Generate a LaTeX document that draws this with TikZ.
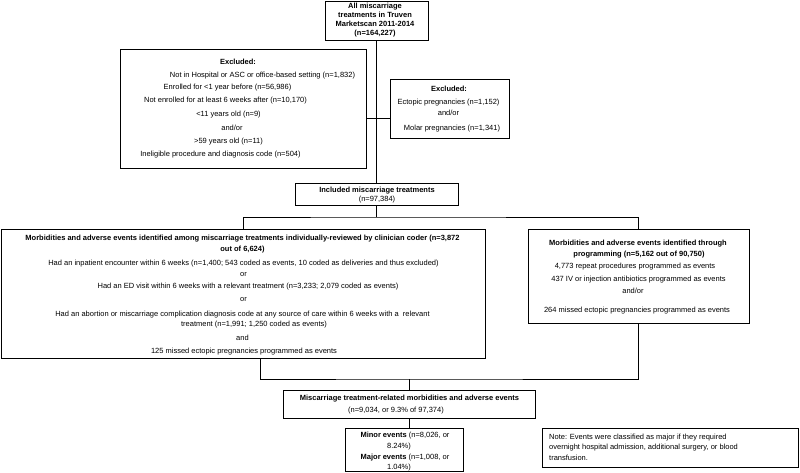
\documentclass[tikz,border=0pt]{standalone}
\usepackage{fontspec}
\setmainfont{Liberation Sans}
\usetikzlibrary{shadows,calc}
\begin{document}
\begin{tikzpicture}[x=1pt,y=-1pt,
  box/.style={draw=black, line width=0.8pt, fill=white, inner sep=0pt,
    drop shadow={shadow xshift=0.9pt, shadow yshift=-0.9pt, opacity=1, fill=black}},
  txt/.style={inner sep=0pt, anchor=base, font=\fontsize{7.5}{9}\selectfont},
  txtb/.style={inner sep=0pt, anchor=base, font=\fontsize{7.5}{9}\selectfont\bfseries},
  txtw/.style={inner sep=0pt, anchor=base west, font=\fontsize{7.5}{9}\selectfont},
  link/.style={draw=black, line width=0.8pt}]
\useasboundingbox (0,0) rectangle (800,472);

% ---------- boxes ----------
\node[box, minimum width=103pt, minimum height=39pt] (top) at (376.5,20.5) {};
\node[box, minimum width=246pt, minimum height=119pt] (exL) at (243,108.5) {};
\node[box, minimum width=119pt, minimum height=59pt] (exR) at (449.5,108.5) {};
\node[box, minimum width=163pt, minimum height=22pt] (incl) at (376.5,194) {};
\node[box, minimum width=484pt, minimum height=129pt] (bigL) at (243,293.5) {};
\node[box, minimum width=221pt, minimum height=94pt] (bigR) at (638.5,276) {};
\node[box, minimum width=252pt, minimum height=28pt] (misc) at (409.5,404) {};
\node[box, minimum width=118pt, minimum height=43pt] (minor) at (404,449.5) {};
\node[box, minimum width=256pt, minimum height=39pt] (note) at (670,447.5) {};

% ---------- connectors ----------
\coordinate (j1) at (376.5,118);
\coordinate (j2) at (376.5,217);
\coordinate (j3) at (409.5,379);
\draw[link] (top.south) -- (incl.north);
\draw[link] (j1 -| exL.east) -- (j1 -| exR.west);
\draw[link] (incl.south) -- (j2);
\draw[link] (bigL.north) |- (j2) -| (bigR.north);
\draw[link] ($(bigL.south)+(17,0)$) |- (j3) -| (bigR.south);
\draw[link] (j3) -- (misc.north);
\draw[link] (misc.south) -- (misc.south |- minor.north);

% ---------- top box text ----------
\node[txtb] (a1) at (375,8.5) {All miscarriage};
\node[txtb] (a2) at (375,17.5) {treatments in Truven};
\node[txtb] (a3) at (375,26.5) {Marketscan 2011-2014};
\node[txtb] (a4) at (375,35.5) {(n=164,227)};

% ---------- excluded (left) ----------
\node[txtb] (b1) at (238,64) {Excluded:};
\node[txt] (b2) at (262.5,77) {Not in Hospital or ASC or office-based setting (n=1,832)};
\node[txt] (b3) at (227.5,89) {Enrolled for <1 year before (n=56,986)};
\node[txt] (b4) at (225.5,102.5) {Not enrolled for at least 6 weeks after (n=10,170)};
\node[txt] (b5) at (228.5,116.5) {<11 years old (n=9)};
\node[txt] (b6) at (232,130) {and/or};
\node[txt] (b7) at (228.5,143.5) {>59 years old (n=11)};
\node[txt] (b8) at (220.5,156) {Ineligible procedure and diagnosis code (n=504)};

% ---------- excluded (right) ----------
\node[txtb] (c1) at (449,91.5) {Excluded:};
\node[txt] (c2) at (448.5,104.5) {Ectopic pregnancies (n=1,152)};
\node[txt] (c3) at (448.5,115.5) {and/or};
\node[txt] (c4) at (452,130.5) {Molar pregnancies (n=1,341)};

% ---------- included ----------
\node[txtb] (d1) at (377,192.5) {Included miscarriage treatments};
\node[txt] (d2) at (377,201.5) {(n=97,384)};

% ---------- big left box ----------
\node[txtb] (e1) at (242.5,240) {Morbidities and adverse events identified among miscarriage treatments individually-reviewed by clinician coder (n=3,872};
\node[txtb] (e2) at (242.5,251) {out of 6,624)};
\node[txt] (e3) at (243.5,265) {Had an inpatient encounter within 6 weeks (n=1,400; 543 coded as events, 10 coded as deliveries and thus excluded)};
\node[txt] (e4) at (243.5,276.5) {or};
\node[txt] (e5) at (248,288.5) {Had an ED visit within 6 weeks with a relevant treatment (n=3,233; 2,079 coded as events)};
\node[txt] (e6) at (243.5,301.5) {or};
\node[txt] (e7) at (242.5,316) {Had an abortion or miscarriage complication diagnosis code at any source of care within 6 weeks with a\ \ relevant};
\node[txt] (e8) at (254,326.5) {treatment (n=1,991; 1,250 coded as events)};
\node[txt] (e9) at (242.5,340) {and};
\node[txt] (e10) at (244,353.5) {125 missed ectopic pregnancies programmed as events};

% ---------- big right box ----------
\node[txtb] (f1) at (638,245) {Morbidities and adverse events identified through};
\node[txtb] (f2) at (639,256) {programming (n=5,162 out of 90,750)};
\node[txt] (f3) at (635,268.5) {4,773 repeat procedures programmed as events};
\node[txt] (f4) at (638.5,281) {437 IV or injection antibiotics programmed as events};
\node[txt] (f5) at (633,293.5) {and/or};
\node[txt] (f6) at (637,312.5) {264 missed ectopic pregnancies programmed as events};

% ---------- misc box ----------
\node[txtb] (g1) at (409.5,400) {Miscarriage treatment-related morbidities and adverse events};
\node[txt] (g2) at (396,412.5) {(n=9,034, or 9.3\% of 97,374)};

% ---------- minor / major ----------
\node[txt] (h1) at (405,437) {\textbf{Minor events} (n=8,026, or};
\node[txt] (h2) at (399,448) {8.24\%)};
\node[txt] (h3) at (405,459.5) {\textbf{Major events} (n=1,008, or};
\node[txt] (h4) at (399,469.5) {1.04\%)};

% ---------- note ----------
\node[txtw] (n1) at (549,439) {Note: Events were classified as major if they required};
\node[txtw] (n2) at (549,449) {overnight hospital admission, additional surgery, or blood};
\node[txtw] (n3) at (549,460) {transfusion.};
\end{tikzpicture}
\end{document}
